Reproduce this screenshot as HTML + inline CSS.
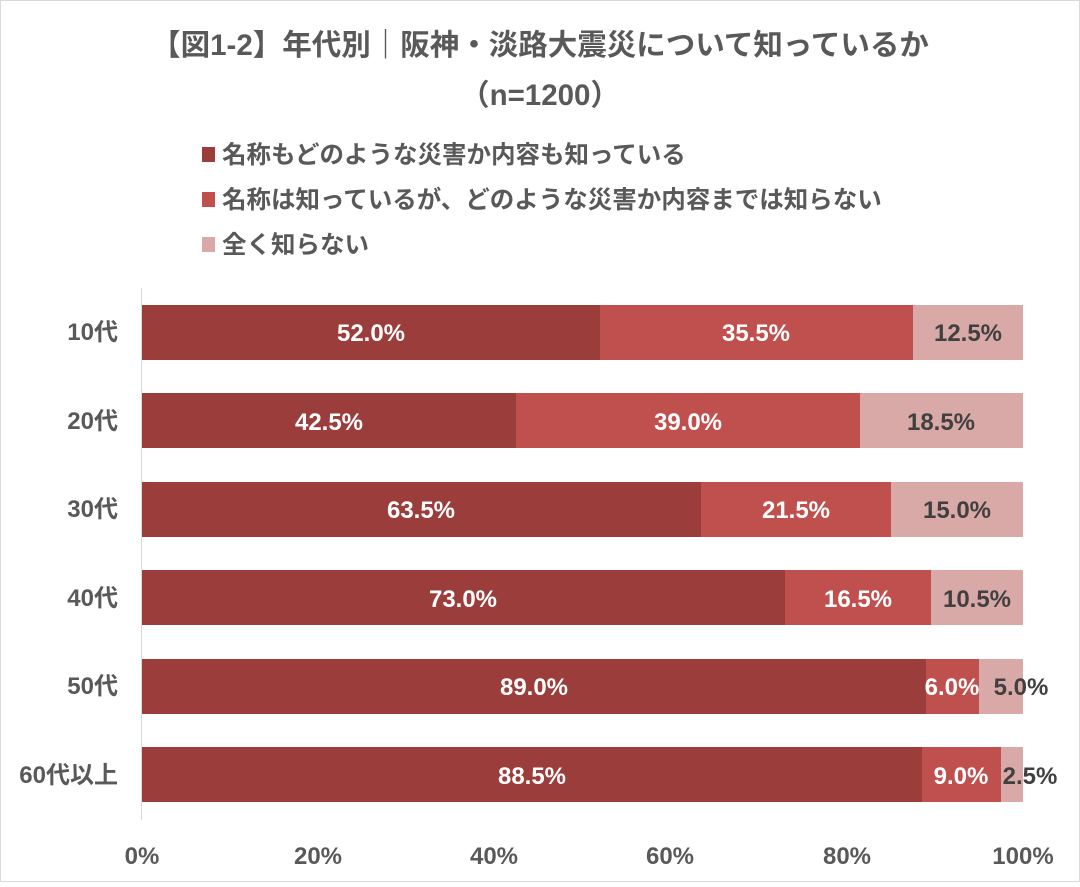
<!DOCTYPE html>
<html><head><meta charset="utf-8"><style>
html,body{margin:0;padding:0;background:#fff;}
svg text{font-family:"Liberation Sans","Noto Sans CJK JP",sans-serif;font-weight:bold;}
</style></head><body>
<svg width="1080" height="882" viewBox="0 0 1080 882" xmlns="http://www.w3.org/2000/svg">
<rect x="0.5" y="0.5" width="1079" height="881" fill="#fff" stroke="#d9d9d9"/>
<text x="540" y="55" text-anchor="middle" font-size="29.5" fill="#595959">【図1-2】年代別｜阪神・淡路大震災について知っているか</text>
<text x="540" y="105" text-anchor="middle" font-size="29.5" fill="#595959">（n=1200）</text>
<rect x="202" y="147" width="13" height="15" fill="#9b3d3b"/>
<text x="222" y="163" font-size="24.5" fill="#595959">名称もどのような災害か内容も知っている</text>
<rect x="202" y="192" width="13" height="15" fill="#c0504d"/>
<text x="222" y="208" font-size="24.5" fill="#595959">名称は知っているが、どのような災害か内容までは知らない</text>
<rect x="202" y="237" width="13" height="15" fill="#d9a9a8"/>
<text x="222" y="253" font-size="24.5" fill="#595959">全く知らない</text>
<line x1="141.5" y1="288" x2="141.5" y2="820" stroke="#d9d9d9"/>
<g font-size="24" fill="#595959" text-anchor="end">
<text x="118" y="340">10代</text>
<text x="118" y="429">20代</text>
<text x="118" y="517">30代</text>
<text x="118" y="606">40代</text>
<text x="118" y="694">50代</text>
<text x="118" y="783">60代以上</text>
</g>
<g font-size="24" fill="#595959" text-anchor="middle">
<text x="142" y="864">0%</text>
<text x="318" y="864">20%</text>
<text x="494" y="864">40%</text>
<text x="670" y="864">60%</text>
<text x="847" y="864">80%</text>
<text x="1023" y="864">100%</text>
</g>
<g font-size="24" text-anchor="middle">
<rect x="142" y="305" width="458" height="55" fill="#9b3d3b"/><rect x="600" y="305" width="313" height="55" fill="#c0504d"/><rect x="913" y="305" width="110" height="55" fill="#d9a9a8"/>
<text x="371" y="341" fill="#fff">52.0%</text><text x="756" y="341" fill="#fff">35.5%</text><text x="968" y="341" fill="#404040">12.5%</text>
<rect x="142" y="393" width="374" height="55" fill="#9b3d3b"/><rect x="516" y="393" width="344" height="55" fill="#c0504d"/><rect x="860" y="393" width="163" height="55" fill="#d9a9a8"/>
<text x="329" y="430" fill="#fff">42.5%</text><text x="688" y="430" fill="#fff">39.0%</text><text x="941" y="430" fill="#404040">18.5%</text>
<rect x="142" y="482" width="559" height="55" fill="#9b3d3b"/><rect x="701" y="482" width="190" height="55" fill="#c0504d"/><rect x="891" y="482" width="132" height="55" fill="#d9a9a8"/>
<text x="421" y="518" fill="#fff">63.5%</text><text x="796" y="518" fill="#fff">21.5%</text><text x="957" y="518" fill="#404040">15.0%</text>
<rect x="142" y="570" width="643" height="55" fill="#9b3d3b"/><rect x="785" y="570" width="146" height="55" fill="#c0504d"/><rect x="931" y="570" width="92" height="55" fill="#d9a9a8"/>
<text x="463" y="607" fill="#fff">73.0%</text><text x="858" y="607" fill="#fff">16.5%</text><text x="977" y="607" fill="#404040">10.5%</text>
<rect x="142" y="659" width="784" height="55" fill="#9b3d3b"/><rect x="926" y="659" width="53" height="55" fill="#c0504d"/><rect x="979" y="659" width="44" height="55" fill="#d9a9a8"/>
<text x="534" y="695" fill="#fff">89.0%</text><text x="952" y="695" fill="#fff">6.0%</text><text x="1021" y="695" fill="#404040">5.0%</text>
<rect x="142" y="747" width="780" height="55" fill="#9b3d3b"/><rect x="922" y="747" width="79" height="55" fill="#c0504d"/><rect x="1001" y="747" width="22" height="55" fill="#d9a9a8"/>
<text x="532" y="784" fill="#fff">88.5%</text><text x="961" y="784" fill="#fff">9.0%</text><text x="1030" y="784" fill="#404040">2.5%</text>
</g>
</svg>
</body></html>
